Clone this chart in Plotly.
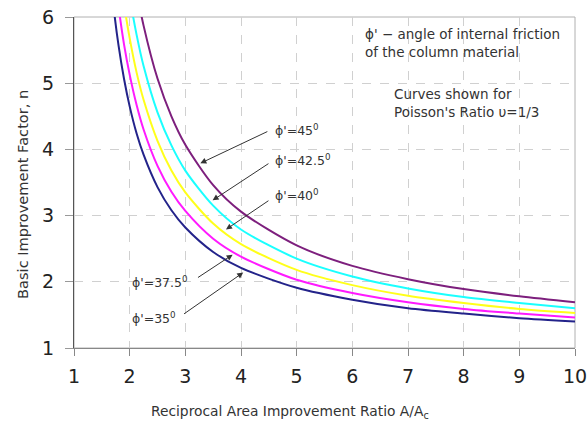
import plotly.graph_objects as go

# Reciprocal area improvement ratio A/Ac (x) and basic improvement factor n (y)
area_ratio = [1.6, 1.7, 1.8, 1.9, 2.0, 2.125, 2.25, 2.5, 2.75, 3.0, 3.5, 4.0, 5.0, 6.0, 7.0, 8.0, 9.0, 10.0]

n_phi35 = [7.10, 6.23, 5.57, 5.06, 4.65, 4.24, 3.92, 3.43, 3.08, 2.82, 2.45, 2.21, 1.91, 1.73, 1.60, 1.52, 1.45, 1.40]
n_phi375 = [7.87, 6.89, 6.16, 5.58, 5.13, 4.67, 4.30, 3.75, 3.36, 3.07, 2.65, 2.38, 2.03, 1.83, 1.69, 1.59, 1.52, 1.46]
n_phi40 = [8.76, 7.66, 6.83, 6.19, 5.68, 5.16, 4.75, 4.13, 3.68, 3.35, 2.88, 2.57, 2.18, 1.95, 1.79, 1.68, 1.59, 1.53]
n_phi425 = [9.79, 8.55, 7.62, 6.89, 6.31, 5.73, 5.26, 4.56, 4.06, 3.68, 3.15, 2.79, 2.35, 2.08, 1.90, 1.77, 1.68, 1.60]
n_phi45 = [11.00, 9.59, 8.54, 7.72, 7.06, 6.40, 5.87, 5.07, 4.50, 4.07, 3.46, 3.06, 2.55, 2.24, 2.04, 1.89, 1.78, 1.69]

series_names = ["φ'=35°", "φ'=37.5°", "φ'=40°", "φ'=42.5°", "φ'=45°"]
series_values = [n_phi35, n_phi375, n_phi40, n_phi425, n_phi45]
series_colors = ["#23238a", "#ff1aff", "#ffff1a", "#1affff", "#7d1f7d"]

x_ticks = [1, 2, 3, 4, 5, 6, 7, 8, 9, 10]
y_ticks = [1, 2, 3, 4, 5, 6]

# label text, label anchor (x, y), arrow tail (x, y), arrow head (x, y)
labels = ["ϕ'=45<sup>0</sup>", "ϕ'=42.5<sup>0</sup>", "ϕ'=40<sup>0</sup>", "ϕ'=37.5<sup>0</sup>", "ϕ'=35<sup>0</sup>"]
label_pos = [(4.57, 4.30), (4.57, 3.84), (4.57, 3.31), (2.00, 2.00), (2.00, 1.46)]
arrow_tail = [(4.50, 4.28), (4.52, 3.80), (4.52, 3.24), (3.20, 2.05), (2.95, 1.50)]
arrow_head = [(3.27, 3.79), (3.49, 3.23), (3.73, 2.79), (3.85, 2.41), (4.04, 2.14)]

fig = go.Figure()
for name, vals, col in zip(series_names, series_values, series_colors):
    fig.add_trace(go.Scatter(x=area_ratio, y=vals, mode="lines", name=name,
                             line=dict(color=col, width=2, shape="spline", smoothing=0.8),
                             showlegend=False))

font_family = "DejaVu Sans"
txt_color = "#333333"
annotations = []
for t, (lx, ly), (tx, ty), (hx, hy) in zip(labels, label_pos, arrow_tail, arrow_head):
    annotations.append(dict(x=lx, y=ly, text=t, showarrow=False, xanchor="left", yanchor="middle",
                            font=dict(family=font_family, size=12.5, color=txt_color)))
    annotations.append(dict(x=hx, y=hy, ax=tx, ay=ty, axref="x", ayref="y", text="",
                            showarrow=True, arrowhead=2, arrowsize=1.2, arrowwidth=1,
                            arrowcolor="#333333"))

annotations.append(dict(x=6.19, y=5.60, xanchor="left", yanchor="middle",
                        align="left", showarrow=False,
                        text="ϕ' − angle of internal friction<br>of the column material",
                        font=dict(family=font_family, size=13.5, color=txt_color)))
annotations.append(dict(x=6.72, y=4.70, xanchor="left", yanchor="middle",
                        align="left", showarrow=False,
                        text="Curves shown for<br>Poisson's Ratio υ=1/3",
                        font=dict(family=font_family, size=13.5, color=txt_color)))
# axis titles
annotations.append(dict(x=0.432, y=-0.193, xref="paper", yref="paper", xanchor="center",
                        yanchor="middle", showarrow=False,
                        text="Reciprocal Area Improvement Ratio A/A<sub>c</sub>",
                        font=dict(family=font_family, size=13.8, color=txt_color)))
annotations.append(dict(x=-0.104, y=0.465, xref="paper", yref="paper", xanchor="center",
                        yanchor="middle", showarrow=False, textangle=-90,
                        text="Basic Improvement Factor, n",
                        font=dict(family=font_family, size=14.6, color=txt_color)))

fig.update_layout(
    width=587, height=423,
    margin=dict(l=74, r=11.5, t=17, b=75, autoexpand=False),
    paper_bgcolor="white", plot_bgcolor="white",
    annotations=annotations,
    shapes=[dict(type="rect", xref="x domain", yref="y domain", x0=0, x1=1, y0=0, y1=1,
                 line=dict(color="#b0b0b0", width=1), layer="below")],
)
fig.update_xaxes(range=[1, 10], tickvals=x_ticks, showgrid=True, gridcolor="#d0d0d0",
                 griddash="dash", gridwidth=1, showline=True, linecolor="#888888", linewidth=1,
                 ticks="outside", ticklen=7, tickcolor="#888888", zeroline=False, automargin=False,
                 ticklabeloverflow="allow", ticklabelstandoff=4,
                 tickfont=dict(family=font_family, size=19, color="#222222"))
fig.update_yaxes(range=[1, 6], tickvals=y_ticks, showgrid=True, gridcolor="#d0d0d0",
                 griddash="dash", gridwidth=1, showline=True, linecolor="#555555", linewidth=1,
                 ticks="outside", ticklen=8, tickcolor="#999999", zeroline=False, automargin=False,
                 ticklabeloverflow="allow", ticklabelstandoff=7,
                 tickfont=dict(family=font_family, size=19, color="#222222"))

fig.write_html("out.html", config={"displayModeBar": False},
               post_script="document.body.style.margin='0';document.body.style.overflow='hidden';")
